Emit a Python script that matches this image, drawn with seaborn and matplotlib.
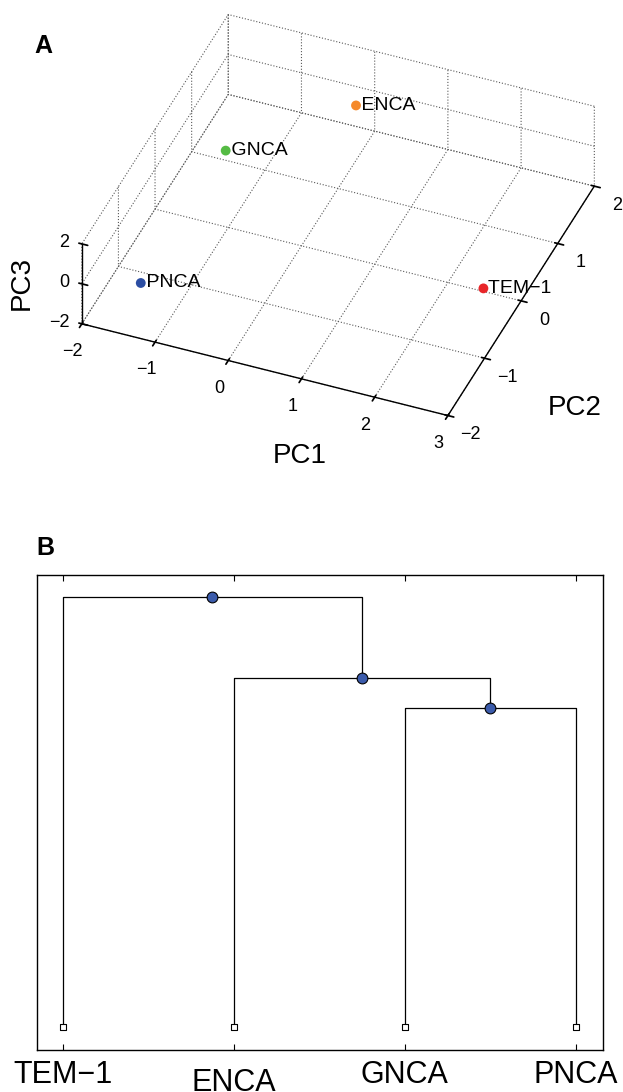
import matplotlib
matplotlib.use('Agg')
import matplotlib.pyplot as plt
import matplotlib.transforms as mtransforms
import numpy as np
import pandas as pd
import seaborn as sns

# panel A: PCA scores of the four enzymes
samples = ['TEM\u22121', 'ENCA', 'GNCA', 'PNCA']
pc1 = [2.77, -0.12, -1.30, -1.32]
pc2 = [-0.57, 1.73, 0.53, -1.75]
pc3 = [0.05, -0.05, 0.05, -0.05]
point_colors = ['#e8262a', '#f5892a', '#55bb44', '#2c4ea3']

# panel B: linkage rows (left cluster, right cluster, height); new clusters numbered from 4
link_left = [2, 1, 0]
link_right = [3, 4, 5]
link_height = [3.19, 3.49, 4.30]

sns.set_theme(style='white')
plt.rcParams['font.family'] = ['Liberation Sans', 'DejaVu Sans']
plt.rcParams['text.color'] = 'black'
plt.rcParams['axes.labelcolor'] = 'black'
plt.rcParams['xtick.color'] = 'black'
plt.rcParams['ytick.color'] = 'black'
plt.rcParams['grid.linestyle'] = ':'
plt.rcParams['grid.color'] = '0.35'
plt.rcParams['grid.linewidth'] = 0.8

fig = plt.figure(figsize=(6.23, 10.92), dpi=100)

# ---------------- panel A ----------------
ax3 = fig.add_axes([0.032, 0.572, 1.0, 0.45], projection='3d', proj_type='ortho')
ax3.view_init(elev=38.8, azim=-68.2)
ax3.set_box_aspect((1, 1, 0.26), zoom=1.12)
for axis in (ax3.xaxis, ax3.yaxis, ax3.zaxis):
    axis.set_pane_color((1, 1, 1, 0))
    axis.line.set_linewidth(1.0)
    axis.line.set_color('black')
# z axis on the front-left corner, ticks pointing along -PC1 like the original
ax3.zaxis.set_ticks_position('lower')
ax3.zaxis._get_tickdir = lambda position: 0
ax3.grid(True)

ax3.scatter(pc1, pc2, pc3, c=point_colors, s=50, depthshade=False, edgecolors='none')
for x, y, z, name in zip(pc1, pc2, pc3, samples):
    ax3.text(x, y, z, ' ' + name, fontsize=14, ha='left', va='center')

ax3.set_xlim(-2, 3)
ax3.set_ylim(-2, 2)
ax3.set_zlim(-2, 2)
ax3.set_xticks(range(-2, 4))
ax3.set_yticks(range(-2, 3))
ax3.set_zticks([-2, 0, 2])
ax3.tick_params(labelsize=13)
ax3.zaxis.set_tick_params(pad=-3.5)
for t in ax3.zaxis.get_major_ticks():
    t.label1.set_horizontalalignment('right')
    t.label1.set_verticalalignment('baseline')
fig.text(300 / 623, 1 - 456 / 1092, 'PC1', fontsize=20, ha='center', va='center')
fig.text(575 / 623, 1 - 408 / 1092, 'PC2', fontsize=20, ha='center', va='center')
fig.text(22 / 623, 1 - 283 / 1092, 'PC3', fontsize=20, rotation=90, ha='center', va='center')
fig.text(0.055, 0.958, 'A', fontsize=18, fontweight='bold', ha='left', va='center')

# ---------------- panel B ----------------
ax = fig.add_axes([0.0594, 0.0385, 0.9085, 0.4349])

xpos = {i: i + 1.0 for i in range(len(samples))}
ypos = {i: 0.0 for i in range(len(samples))}
rows = []
for k, (l, r, h) in enumerate(zip(link_left, link_right, link_height)):
    xl, xr = xpos[l], xpos[r]
    ax.plot([xl, xl, xr, xr], [ypos[l], h, h, ypos[r]], color='black', lw=0.9, zorder=1)
    xpos[len(samples) + k] = (xl + xr) / 2
    ypos[len(samples) + k] = h
    rows.append({'x': (xl + xr) / 2, 'h': h})
nodes = pd.DataFrame(rows)
leaves = pd.DataFrame({'x': [xpos[i] for i in range(len(samples))], 'h': 0.0})

sns.scatterplot(data=nodes, x='x', y='h', ax=ax, s=60, color='#3b5bab',
                edgecolor='black', linewidth=0.8, zorder=3)
sns.scatterplot(data=leaves, x='x', y='h', ax=ax, s=22, marker='s', color='white',
                edgecolor='black', linewidth=0.8, zorder=3)

ax.set_xlim(0.85, 4.16)
ax.set_ylim(-0.23, 4.52)
ax.set_xticks([1, 2, 3, 4])
ax.set_xticklabels(samples)
ax.set_yticks([])
ax.set_xlabel('')
ax.set_ylabel('')
ax.tick_params(axis='x', direction='in', length=4, width=0.8, top=True, bottom=True,
               labelsize=22, pad=7, color='black')
for s in ax.spines.values():
    s.set_color('black')
    s.set_linewidth(1.0)
lab = ax.get_xticklabels()[1]
lab.set_transform(lab.get_transform() + mtransforms.ScaledTranslation(0, -6 / 72, fig.dpi_scale_trans))
fig.text(0.058, 0.498, 'B', fontsize=18, fontweight='bold', ha='left', va='center')

fig.savefig('out.png', dpi=100)
